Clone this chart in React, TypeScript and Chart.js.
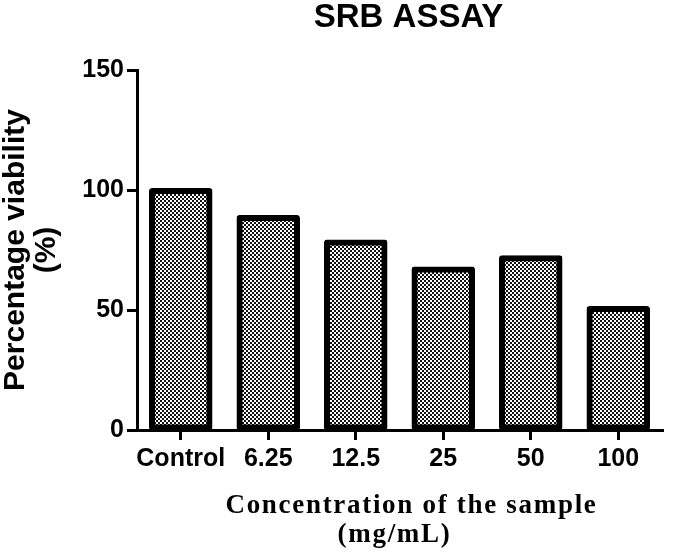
import React, { useEffect, useRef } from 'react';
import { Chart, registerables } from 'chart.js';

Chart.register(...registerables);

const categories = ['Control', '6.25', '12.5', '25', '50', '100'];
const viability = [100, 88.8, 78.5, 67.3, 72, 50.8];
const yTicks = [0, 50, 100, 150];
const chartTitle = 'SRB ASSAY';
const yTitle = ['Percentage viability', '(%)'];
const xTitle = ['Concentration of the sample', '(mg/mL)'];

const SANS = '"Liberation Sans", Arial, Helvetica, sans-serif';
const SERIF = '"Liberation Serif", "Times New Roman", serif';

function makePattern(): CanvasPattern | string {
  const c = document.createElement('canvas');
  c.width = 4;
  c.height = 4;
  const g = c.getContext('2d');
  if (!g) return '#888';
  g.fillStyle = '#ffffff';
  g.fillRect(0, 0, 4, 4);
  g.fillStyle = '#111111';
  g.fillRect(0, 0, 2, 2);
  g.fillRect(2, 2, 2, 2);
  const p = g.createPattern(c, 'repeat');
  return p || '#888';
}

const textPlugin = {
  id: 'extraTexts',
  afterDraw(chart: any) {
    const ctx = chart.ctx as CanvasRenderingContext2D;
    const ca = chart.chartArea;
    const cx = (ca.left + ca.right) / 2;
    ctx.save();
    ctx.fillStyle = '#000';
    ctx.textAlign = 'center';
    ctx.textBaseline = 'alphabetic';
    ctx.font = `bold 33px ${SANS}`;
    ctx.fillText(chartTitle, cx + 9, 27);
    ctx.font = `bold 27px ${SERIF}`;
    (ctx as any).letterSpacing = '1.7px';
    ctx.fillText(xTitle[0], cx + 12, 513);
    ctx.fillText(xTitle[1], cx - 5, 542);
    ctx.restore();
  },
};

export default function App() {
  const ref = useRef<HTMLCanvasElement | null>(null);

  useEffect(() => {
    if (!ref.current) return;
    const pattern = makePattern();
    const chart = new Chart(ref.current, {
      type: 'bar',
      data: {
        labels: categories,
        datasets: [
          {
            data: viability,
            backgroundColor: pattern as any,
            borderColor: '#000',
            borderWidth: 6,
            borderRadius: 3,
            borderSkipped: false,
            inflateAmount: 2,
            barPercentage: 0.68,
            categoryPercentage: 1,
          } as any,
        ],
      },
      options: {
        responsive: false,
        animation: false,
        devicePixelRatio: 1,
        layout: { padding: { top: 70, right: 23, left: 0, bottom: 0 } },
        plugins: {
          legend: { display: false },
          tooltip: { enabled: false },
          title: { display: false },
        },
        scales: {
          x: {
            afterFit: (s: any) => {
              s.height = 129;
            },
            grid: {
              display: true,
              offset: false,
              drawOnChartArea: false,
              drawTicks: true,
              tickLength: 10,
              lineWidth: 3,
              color: '#000',
            },
            border: { display: true, width: 3, color: '#000' },
            ticks: {
              autoSkip: false,
              maxRotation: 0,
              minRotation: 0,
              padding: 4,
              color: '#000',
              font: { family: SANS, size: 25, weight: 'bold' },
            },
          },
          y: {
            min: 0,
            max: 150,
            afterFit: (s: any) => {
              s.width = 137;
            },
            afterBuildTicks: (s: any) => {
              s.ticks = yTicks.map((v) => ({ value: v }));
            },
            grid: {
              display: true,
              drawOnChartArea: false,
              drawTicks: true,
              tickLength: 10,
              lineWidth: 3,
              color: '#000',
            },
            border: { display: true, width: 3, color: '#000' },
            ticks: {
              padding: 3,
              color: '#000',
              font: { family: SANS, size: 25, weight: 'bold' },
            },
            title: {
              display: true,
              text: yTitle,
              color: '#000',
              padding: { top: 0, bottom: 0 },
              font: { family: SANS, size: 30, weight: 'bold', lineHeight: '31px' },
            },
          },
        },
      },
      plugins: [textPlugin],
    });
    return () => chart.destroy();
  }, []);

  return (
    <div style={{ position: 'absolute', left: 0, top: 0, width: 685, height: 559, background: '#fff' }}>
      <canvas ref={ref} width={685} height={559} style={{ display: 'block', width: 685, height: 559 }} />
    </div>
  );
}
